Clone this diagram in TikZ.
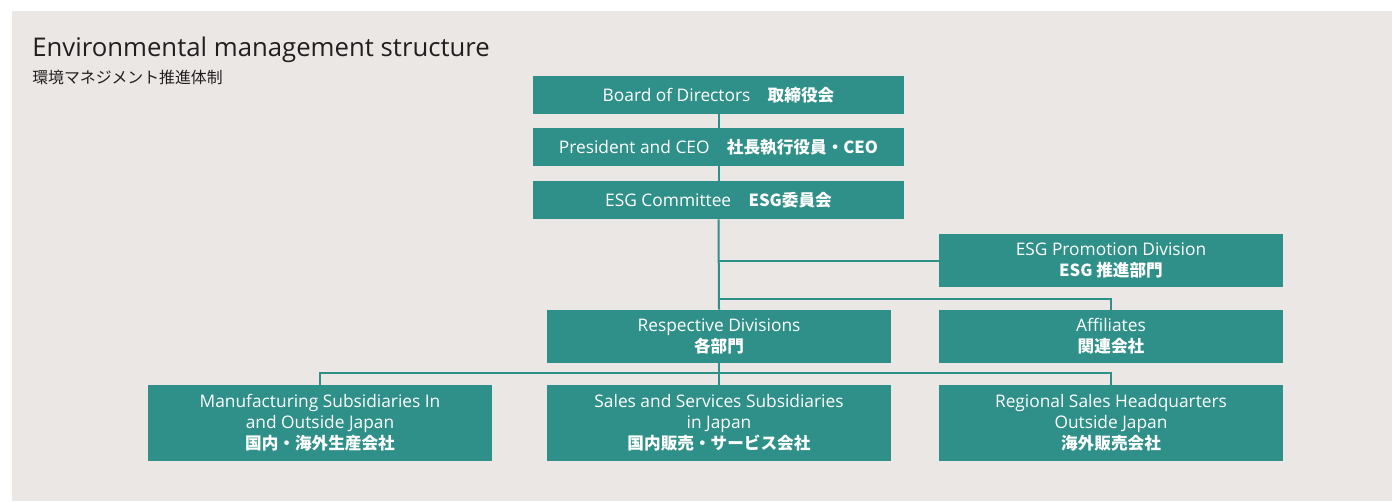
\documentclass[tikz,border=0pt]{standalone}
\usepackage{fontspec}
\setmainfont{Open Sans}
\newfontfamily\jp{Noto Sans CJK JP}[Scale=0.96]
\usetikzlibrary{positioning}
\definecolor{teal1}{RGB}{46,144,137}
\definecolor{bg}{RGB}{235,231,228}
\definecolor{ink}{RGB}{35,31,32}
\tikzset{
  x=0.75pt,y=-0.75pt,
  orgbox/.style={fill=teal1,text=white,inner sep=0pt,align=center,font=\fontsize{13}{15.75}\selectfont},
  wbox/.style={orgbox,minimum width=371*0.75pt,minimum height=38*0.75pt},
  nbox/.style={orgbox,minimum width=344*0.75pt,minimum height=53*0.75pt},
  tbox/.style={orgbox,minimum width=344*0.75pt,minimum height=76*0.75pt},
  link/.style={draw=teal1,line width=1.5pt}
}
\begin{document}
\begin{tikzpicture}
\useasboundingbox (0,0) rectangle (1392,501);
\fill[white] (0,0) rectangle (1392,501);
\fill[bg] (12,11) rectangle (1392,501);
\node[anchor=base west,text=ink,inner sep=0pt,font=\fontsize{19.3}{23}\selectfont] (title) at (32,56) {Environmental management structure};
\node[anchor=base west,text=ink,inner sep=0pt,font=\jp\fontsize{12.4}{14}\selectfont] (subtitle) at (32,83) {環境マネジメント推進体制};

\node[wbox] (board) at (718.5,95) {Board of Directors\quad{\jp\bfseries 取締役会}};
\node[wbox] (pres) at (718.5,147) {President and CEO\quad{\jp\bfseries 社長執行役員・CEO}};
\node[wbox] (comm) at (718.5,200) {ESG Committee\quad{\jp\bfseries ESG委員会}};
\node[nbox] (promo) at (1111,260.5) {ESG Promotion Division\\{\jp\bfseries ESG 推進部門}};
\node[nbox] (resp) at (719,336.5) {Respective Divisions\\{\jp\bfseries 各部門}};
\node[nbox] (aff) at (1111,336.5) {Affiliates\\{\jp\bfseries 関連会社}};
\node[tbox] (manuf) at (320,423) {Manufacturing Subsidiaries In\\and Outside Japan\\{\jp\bfseries 国内・海外生産会社}};
\node[tbox] (sales) at (719,423) {Sales and Services Subsidiaries\\in Japan\\{\jp\bfseries 国内販売・サービス会社}};
\node[tbox] (reg) at (1111,423) {Regional Sales Headquarters\\Outside Japan\\{\jp\bfseries 海外販売会社}};

\coordinate (j1) at (719,299);
\coordinate (j2) at (719,373);
\draw[link] (board.south) -- (pres.north);
\draw[link] (pres.south) -- (comm.north);
\draw[link] (comm.south) -- (resp.north);
\draw[link] (comm.south |- promo.west) -- (promo.west);
\draw[link] (j1) -| (aff.north);
\draw[link] (resp.south) -- (sales.north);
\draw[link] (manuf.north) |- (j2) -| (reg.north);
\end{tikzpicture}
\end{document}
